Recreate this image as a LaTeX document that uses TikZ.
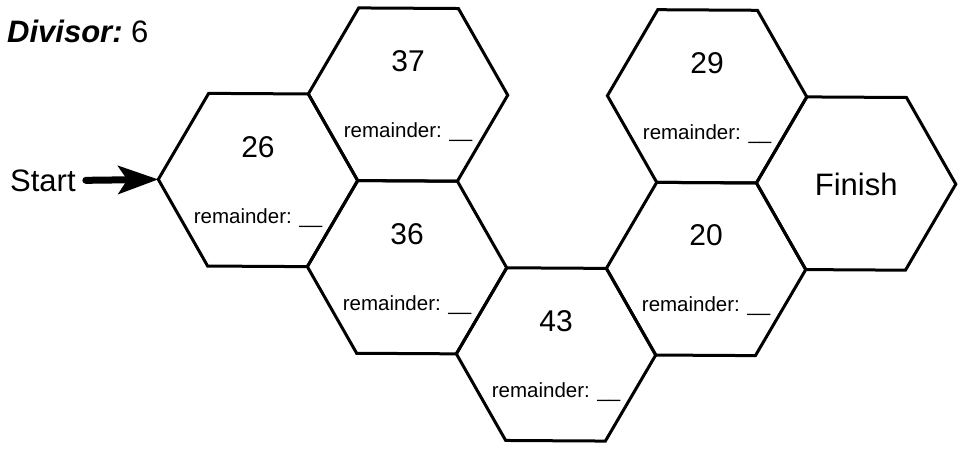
\documentclass[tikz,border=0pt]{standalone}
\usepackage{fontspec}
\setmainfont{Liberation Sans}
\usetikzlibrary{arrows.meta}
\begin{document}
\begin{tikzpicture}[x=1pt,y=-1pt,
  hexline/.style={line width=3pt, line join=miter, draw=black},
  numtext/.style={anchor=base, inner sep=0pt, font=\fontsize{30}{36}\selectfont},
  remtext/.style={anchor=base, inner sep=0pt, font=\fontsize{20.5}{24}\selectfont},
  bigtext/.style={inner sep=0pt, font=\fontsize{31}{37}\selectfont}]
\useasboundingbox (0,0) rectangle (962,450);
% hexagon lattice (slightly tilted like the reference)
\begin{scope}[shift={(258,180)}, rotate=-0.34]
\coordinate (h26) at (0,0);
\coordinate (h37) at (149.55,-86.34);
\coordinate (h36) at (149.55,86.34);
\coordinate (h43) at (299.1,172.68);
\coordinate (h20) at (448.65,86.34);
\coordinate (h29) at (448.65,-86.34);
\coordinate (hF) at (598.2,0);
\coordinate (w26) at (-99.7,0);
\foreach \c in {h26,h37,h36,h43,h20,h29,hF}{
  \draw[hexline] (\c) +(0:99.7) -- +(60:99.7) -- +(120:99.7) -- +(180:99.7) -- +(240:99.7) -- +(300:99.7) -- cycle;
}
\end{scope}
% texts
\foreach \c/\n in {h26/26,h37/37,h36/36,h43/43,h20/20,h29/29}{
  \node[numtext] (num\n) at ([yshift=23pt]\c) {\n};
  \node[remtext] (rem\n) at ([yshift=-43pt]\c) {remainder: \_\_};
}
\node[bigtext, anchor=base] (finish) at ([yshift=-12pt]hF) {Finish};
\node[anchor=base west, inner sep=0pt, font=\fontsize{31}{37}\selectfont] (divisor) at (7,42) {\bfseries\itshape Divisor:\mdseries\upshape\ 6};
\node[bigtext, anchor=base west] (start) at (10,191) {Start};
\draw[line width=7pt, line cap=round, -{Stealth[length=40pt,width=28pt,inset=9pt]}] ([xshift=10pt]start.east) -- (w26);
\end{tikzpicture}
\end{document}
